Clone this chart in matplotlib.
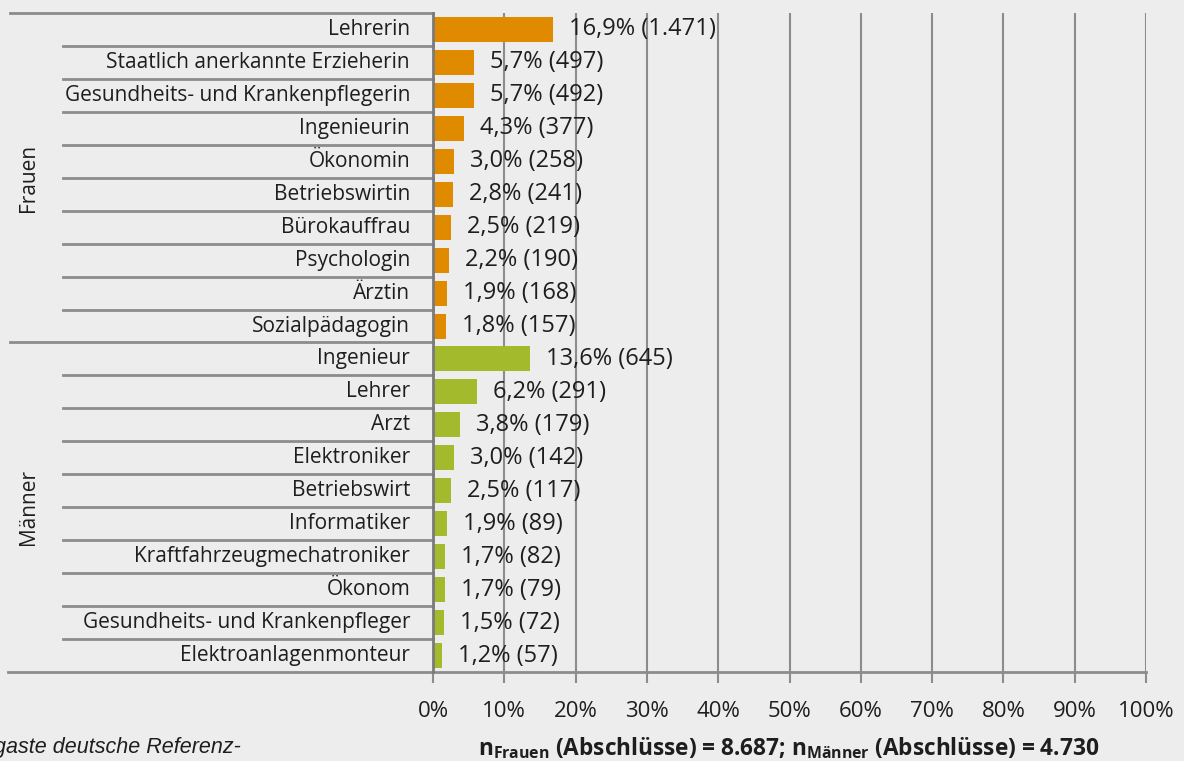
import matplotlib
matplotlib.use("Agg")
import matplotlib.pyplot as plt
from matplotlib.transforms import blended_transform_factory

frauen_labels = ["Lehrerin", "Staatlich anerkannte Erzieherin", "Gesundheits- und Krankenpflegerin",
                 "Ingenieurin", "Ökonomin", "Betriebswirtin", "Bürokauffrau", "Psychologin",
                 "Ärztin", "Sozialpädagogin"]
frauen_pct = [16.9, 5.7, 5.7, 4.3, 3.0, 2.8, 2.5, 2.2, 1.9, 1.8]
frauen_n = [1471, 497, 492, 377, 258, 241, 219, 190, 168, 157]

maenner_labels = ["Ingenieur", "Lehrer", "Arzt", "Elektroniker", "Betriebswirt", "Informatiker",
                  "Kraftfahrzeugmechatroniker", "Ökonom", "Gesundheits- und Krankenpfleger",
                  "Elektroanlagenmonteur"]
maenner_pct = [13.6, 6.2, 3.8, 3.0, 2.5, 1.9, 1.7, 1.7, 1.5, 1.2]
maenner_n = [645, 291, 179, 142, 117, 89, 82, 79, 72, 57]

groups = ["Frauen", "Männer"]
xticks = list(range(0, 101, 10))
xlabel_parts = ("Frauen", "8.687", "Männer", "4.730")
footnote = "gaste deutsche Referenz-"

ORANGE = "#E08A00"
GREEN = "#A3BA2C"
BG = "#EDEDED"
GRID = "#8C8C8C"
TXT = "#1E1E1E"
FONT = "Open Sans"

plt.rcParams['font.family'] = [FONT, 'DejaVu Sans']
plt.rcParams['mathtext.fontset'] = 'custom'
plt.rcParams['mathtext.bf'] = FONT + ':bold'
plt.rcParams['mathtext.rm'] = FONT

W, H = 1184, 761
fig = plt.figure(figsize=(W / 100, H / 100), dpi=100, facecolor=BG)
x0, x1, ytop, ybot = 433, 1146, 13, 672
ax = fig.add_axes([x0 / W, 1 - ybot / H, (x1 - x0) / W, (ybot - ytop) / H])
ax.set_facecolor(BG)

labels = frauen_labels + maenner_labels
pct = frauen_pct + maenner_pct
counts = frauen_n + maenner_n
colors = [ORANGE] * len(frauen_pct) + [GREEN] * len(maenner_pct)
ypos = list(range(len(labels)))

ax.barh(ypos, pct, height=0.76, color=colors, zorder=3)
ax.set_xlim(0, 100)
ax.set_ylim(len(labels) - 0.5, -0.5)

def fmt_pct(v):
    return f"{v:.1f}".replace(".", ",") + "%"

def fmt_n(n):
    return f"{n:,}".replace(",", ".")

FS = 15
for y, v, n in zip(ypos, pct, counts):
    ax.annotate(f"{fmt_pct(v)} ({fmt_n(n)})", xy=(v, y), xytext=(16, 0),
                textcoords="offset pixels",
                va="center", ha="left", fontsize=17, color=TXT, zorder=4)

# grid
for t in xticks[1:]:
    ax.axvline(t, color=GRID, lw=1.5, zorder=1)
for s in ["top", "right", "bottom"]:
    ax.spines[s].set_visible(False)
ax.spines["left"].set_color("#7A7A7A")
ax.spines["left"].set_linewidth(2)
ax.spines["left"].set_zorder(5)

ax.set_xticks(xticks)
ax.set_xticklabels([f"{t}%" for t in xticks], fontsize=16, color=TXT)
ax.tick_params(axis="x", length=8, width=1.5, color=GRID, pad=13)
ax.set_yticks([])

tr = blended_transform_factory(ax.transAxes, ax.transData)
axw = x1 - x0
inner_start = (63 - x0) / axw
outer_start = (10 - x0) / axw

for y, lab in zip(ypos, labels):
    ax.text((410 - x0) / axw, y, lab, transform=tr, ha="right", va="center",
            fontsize=FS, color=TXT)

nF = len(frauen_labels)
for b in range(1, len(labels)):
    if b == nF:
        continue
    ax.plot([inner_start, 0], [b - 0.5, b - 0.5], transform=tr, color=GRID, lw=2, clip_on=False, zorder=2)
for b in [0, nF]:
    ax.plot([outer_start, 0], [b - 0.5, b - 0.5], transform=tr, color=GRID, lw=2, clip_on=False, zorder=2)
ax.plot([(8 - x0) / axw, 1], [len(labels) - 0.5] * 2, transform=tr, color=GRID, lw=2, clip_on=False, zorder=2)

gx = (28 - x0) / axw
ax.text(gx, (nF - 1) / 2, groups[0], transform=tr, rotation=90, ha="center", va="center",
        fontsize=FS, color=TXT)
ax.text(gx, nF + (len(maenner_labels) - 1) / 2, groups[1], transform=tr, rotation=90,
        ha="center", va="center", fontsize=FS, color=TXT)

xl = (r"$\mathbf{n}_{\mathbf{%s}}$ (Abschlüsse) = %s; $\mathbf{n}_{\mathbf{%s}}$ (Abschlüsse) = %s"
      % xlabel_parts)
fig.text(789 / W, 1 - 748 / H, xl, ha="center", va="center", fontsize=16.3, fontweight="bold", color=TXT)

fig.text(-6 / W, 1 - 748 / H, footnote, ha="left", va="center", fontsize=15.5, style="italic",
         family="Liberation Sans", color=TXT)

fig.savefig("out.png", dpi=100, facecolor=BG)
